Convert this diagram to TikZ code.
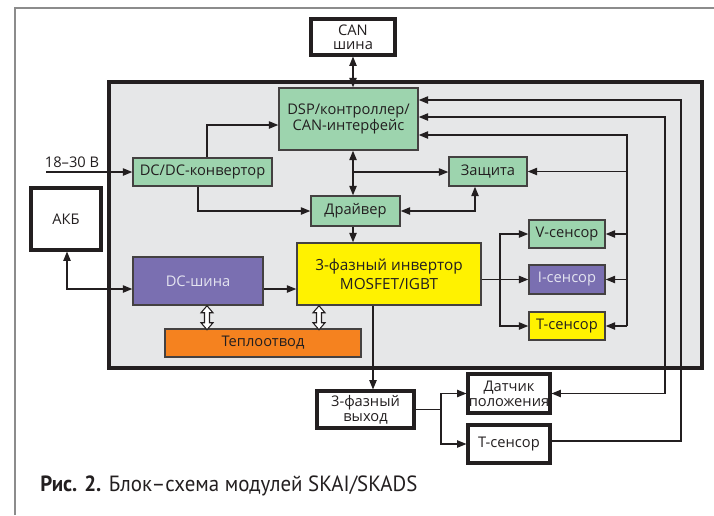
\documentclass[tikz,border=0pt]{standalone}
\usepackage{fontspec}
\setmainfont{Open Sans}
\newfontfamily\capfont[FakeStretch=0.95]{PT Sans}
\usetikzlibrary{arrows.meta,calc}
\definecolor{panel}{HTML}{E6E7E8}
\definecolor{bgreen}{HTML}{9DD4AE}
\definecolor{bpurple}{HTML}{7A6FB1}
\definecolor{byellow}{HTML}{FFF200}
\definecolor{borange}{HTML}{F5821F}
\definecolor{ink}{HTML}{231F20}
\definecolor{framegray}{HTML}{8C8C8C}
\definecolor{lighttext}{HTML}{E4E4F0}
\newcommand\hollowdbl[1]{\draw[hollow] #1 -- ++(6,7) -- ++(-3.5,0) -- ++(0,10) -- ++(3.5,0) -- ++(-6,7) -- ++(-6,-7) -- ++(3.5,0) -- ++(0,-10) -- ++(-3.5,0) -- cycle;}
\begin{document}
\begin{tikzpicture}[x=0.75pt,y=-0.75pt,
  wh/.style 2 args={minimum width=#1*0.75pt,minimum height=#2*0.75pt},
  boxfont/.style={font=\fontsize{11}{11.2}\selectfont},
  cbox/.style={draw=ink!85,line width=1.1pt,inner sep=0pt,align=center,boxfont,text=ink},
  gbox/.style={cbox,fill=bgreen},
  pbox/.style={cbox,fill=bpurple,text=lighttext},
  ybox/.style={cbox,fill=byellow},
  obox/.style={cbox,fill=borange},
  wbox/.style={draw=ink,line width=2.3pt,fill=white,inner sep=0pt,align=center,boxfont,text=ink},
  conn/.style={draw=ink,line width=0.9pt},
  arr/.style={conn,-{Triangle[length=7pt,width=5.5pt]}},
  darr/.style={conn,{Triangle[length=7pt,width=5.5pt]}-{Triangle[length=7pt,width=5.5pt]}},
  hollow/.style={draw=ink,fill=white,line width=0.8pt,line join=miter},
]
\fill[white] (0,0) rectangle (714,515);
\useasboundingbox (0,0) rectangle (714,515);
% outer frame
\draw[framegray,line width=1.3pt] (15,515) -- (15,8) -- (714,8);
% main panel
\node[draw=ink,line width=2.3pt,fill=panel,wh={593}{286}] (main) at (405.5,225) {};
% boxes
\node[wbox,wh={84}{36}] (can) at (353,37) {CAN\\[-1pt]шина};
\node[gbox,wh={139}{62},font=\fontsize{11}{10.5}\selectfont] (dsp) at (348.5,119) {DSP/контроллер/\\CAN-интерфейс};
\node[gbox,wh={139}{28}] (dcdc) at (202.5,172) {DC/DC-конвертор};
\node[gbox,wh={89}{30}] (drv) at (355.5,211) {Драйвер};
\node[gbox,wh={78}{29}] (zash) at (488,171.5) {Защита};
\node[ybox,wh={184}{62},font=\fontsize{11.5}{14}\selectfont] (inv) at (389,274) {3-фазный инвертор\\MOSFET/IGBT};
\node[pbox,wh={130}{48}] (dcbus) at (198,281) {DC-шина};
\node[wbox,wh={70}{62}] (akb) at (66,219) {АКБ};
\node[obox,wh={196}{28}] (teplo) at (263,343) {Теплоотвод};
\node[gbox,wh={76}{28}] (vs) at (567,234) {V-сенсор};
\node[pbox,wh={76}{29}] (is) at (567,279.5) {I-сенсор};
\node[ybox,wh={76}{28}] (ts) at (567,326) {T-сенсор};
\node[wbox,wh={97}{37}] (out) at (365.5,409.5) {3-фазный\\выход};
\node[wbox,wh={82}{39}] (dat) at (509,393.5) {Датчик\\положения};
\node[wbox,wh={82}{38}] (tex) at (509,444) {T-сенсор};
% input label
\node[boxfont,text=ink,inner sep=0pt] (vlab) at (72,162) {18–30 В};
\coordinate (vin) at (46,172);
% connectors
\draw[darr] (can.south) -- (can.south |- dsp.north);
\draw[arr] (vin) -- (dcdc.west);
\draw[arr] (dcdc.north -| 207,0) |- (dsp.west |- 0,125);
\draw[arr] (dcdc.south -| 198,0) |- (drv.west);
\draw[darr] (dsp.south -| 353,0) -- (drv.north -| 353,0);
\coordinate (jz) at (353,172);
\draw[arr] (jz) -- (jz -| zash.west);
\draw[darr] (drv.east) -| (zash.south -| 475,0);
\draw[arr] (drv.south -| 353,0) -- (inv.north -| 353,0);
\draw[darr] (akb.south -| 67,0) |- (dcbus.west |- 0,289);
\draw[arr] (dcbus.east |- 0,289) -- (inv.west |- 0,289);
\hollowdbl{(dcbus.south -| 207,0)}
\hollowdbl{(inv.south -| 319,0)}
\draw[arr] (inv.east |- is.west) -- (is.west);
\coordinate (jv) at (500,280);
\draw[arr] (jv) |- (vs.west);
\draw[arr] (jv) |- (ts.west);
\draw[arr] (inv.south -| 373,0) -- (out.north -| 373,0);
\coordinate (jo) at (441,409.5);
\draw[conn] (out.east) -- (jo);
\draw[arr] (jo) |- (dat.west);
\draw[arr] (jo) |- (tex.west);
% feedback lines
\coordinate (fa) at (627,135);
\draw[arr] (ts.east -| fa) -- (fa) -- (fa -| dsp.east);
\draw[arr] (zash.east -| fa) -- (zash.east);
\draw[arr] (vs.east -| fa) -- (vs.east);
\draw[arr] (is.east -| fa) -- (is.east);
\draw[arr] (ts.east -| fa) -- (ts.east);
\coordinate (fb) at (665,117);
\draw[darr] (fb -| dsp.east) -- (fb) |- (dat.east);
\coordinate (fc) at (681,100);
\draw[arr] (tex.east |- 0,441) -| (fc) -- (fc -| dsp.east);
% caption
\node[anchor=base west,inner sep=0pt,font=\capfont\fontsize{16.5}{17}\selectfont,text=ink] (cap) at (40,491) {\textbf{Рис. 2.} Блок–схема модулей SKAI/SKADS};
\end{tikzpicture}
\end{document}
